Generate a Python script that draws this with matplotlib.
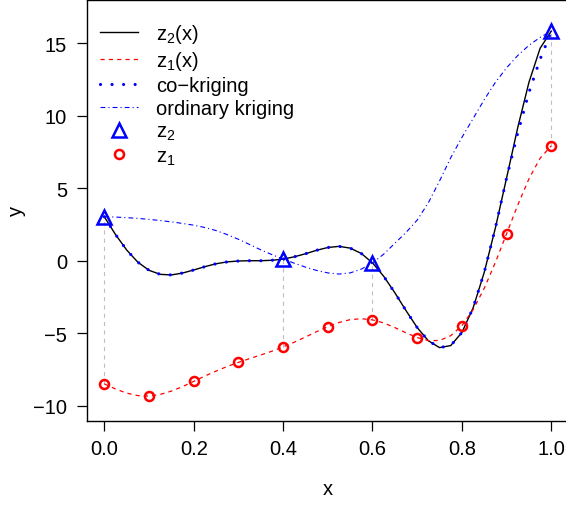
import matplotlib
matplotlib.use("Agg")
import matplotlib.pyplot as plt
import numpy as np

plt.rcParams['font.family'] = ['Liberation Sans', 'DejaVu Sans']
plt.rcParams['mathtext.fontset'] = 'custom'
plt.rcParams['mathtext.rm'] = 'Liberation Sans'
plt.rcParams['mathtext.it'] = 'Liberation Sans'
plt.rcParams['lines.scale_dashes'] = False

# fine grid of x values
x_grid = [0.0, 0.025, 0.05, 0.075, 0.1, 0.125, 0.15, 0.175, 0.2, 0.225,
          0.25, 0.275, 0.3, 0.325, 0.35, 0.375, 0.4, 0.425, 0.45, 0.475,
          0.5, 0.525, 0.55, 0.575, 0.6, 0.625, 0.65, 0.675, 0.7, 0.725,
          0.75, 0.775, 0.8, 0.825, 0.85, 0.875, 0.9, 0.925, 0.95, 0.975, 1.0]

# high fidelity curve z2(x)
z2_curve = [3.03, 1.81, 0.74, -0.10, -0.66, -0.94, -0.98, -0.85, -0.64, -0.41,
            -0.21, -0.08, -0.02, 0.00, 0.00, 0.03, 0.11, 0.27, 0.48, 0.72,
            0.91, 0.99, 0.87, 0.50, -0.15, -1.07, -2.21, -3.44, -4.61, -5.52,
            -5.99, -5.85, -4.95, -3.26, -0.80, 2.27, 5.71, 9.19, 12.30, 14.65, 15.83]

# low fidelity curve z1(x)
z1_curve = [-8.49, -8.84, -9.13, -9.30, -9.33, -9.22, -8.99, -8.68, -8.32, -7.95,
            -7.61, -7.29, -7.01, -6.75, -6.50, -6.24, -5.94, -5.62, -5.26, -4.89,
            -4.55, -4.26, -4.06, -4.00, -4.08, -4.29, -4.61, -4.97, -5.30, -5.51,
            -5.50, -5.17, -4.48, -3.38, -1.90, -0.11, 1.86, 3.84, 5.65, 7.07, 7.92]

# co-kriging prediction (follows z2, a little low near x = 1)
ck_x = x_grid[:-1] + [0.9875, 1.0]
ck_curve = z2_curve[:37] + [8.82, 11.6, 13.9, 14.85, 15.83]

# ordinary kriging prediction from the z2 points only
ok_curve = [3.03, 3.01, 2.97, 2.92, 2.85, 2.77, 2.68, 2.57, 2.45, 2.29,
            2.08, 1.80, 1.48, 1.12, 0.75, 0.42, 0.11, -0.17, -0.44, -0.67,
            -0.84, -0.92, -0.84, -0.58, -0.15, 0.45, 1.20, 1.95, 2.80, 4.00,
            5.50, 7.10, 8.50, 9.80, 11.10, 12.30, 13.30, 14.15, 14.85, 15.40, 15.83]

# observations
x2_obs = [0.0, 0.4, 0.6, 1.0]
z2_obs = [3.03, 0.11, -0.15, 15.83]
x1_obs = [0.0, 0.1, 0.2, 0.3, 0.4, 0.5, 0.6, 0.7, 0.8, 0.9, 1.0]
z1_obs = [-8.49, -9.33, -8.32, -7.01, -5.94, -4.55, -4.08, -5.30, -4.48, 1.86, 7.92]
z1_at_x2 = [-8.49, -5.94, -4.08, 7.92]

W, H = 566, 506
fig = plt.figure(figsize=(W / 100, H / 100), dpi=100)
ax = fig.add_axes([86.6 / W, 1 - 421.7 / H, 482.4 / W, 421.2 / H])

# grey links between the two fidelity levels
ax.vlines(x2_obs, z1_at_x2, z2_obs, colors='#bebebe', linestyles=(0, (3, 3)), lw=0.8)

ax.plot(x_grid, z2_curve, color='black', lw=1.0, label=r'$\mathregular{z_2(x)}$')
ax.plot(x_grid, z1_curve, color='red', lw=0.9, linestyle=(0, (3, 3)),
        label=r'$\mathregular{z_1(x)}$')
ax.plot(ck_x, ck_curve, color='blue', lw=2.3, linestyle=(0, (0.01, 8.3)),
        dash_capstyle='round', label='co\u2212kriging')
ax.plot(x_grid, ok_curve, color='blue', lw=0.8, linestyle=(0, (3.5, 2.2, 0.8, 2.2)),
        label='ordinary kriging')
ax.plot(x2_obs, z2_obs, linestyle='none', marker='^', ms=9.5, mfc='none',
        mec='blue', mew=1.8, label=r'$\mathregular{z_2}$')
ax.plot(x1_obs, z1_obs, linestyle='none', marker='o', ms=6.5, mfc='none',
        mec='red', mew=1.8, label=r'$\mathregular{z_1}$')

ax.set_xlim(-0.0396, 1.0396)
ax.set_ylim(-11.03, 18.01)
ax.set_xticks([0.0, 0.2, 0.4, 0.6, 0.8, 1.0])
ax.set_xticklabels(['0.0', '0.2', '0.4', '0.6', '0.8', '1.0'])
ax.set_yticks([-10, -5, 0, 5, 10, 15])
ax.set_yticklabels(['\u221210', '\u22125', '0', '5', '10', '15'])
ax.tick_params(labelsize=14.5, length=7, width=0.9)
ax.tick_params(axis='x', pad=6.5)
ax.tick_params(axis='y', pad=7)
for s in ax.spines.values():
    s.set_linewidth(1.0)
ax.set_xlabel('x', fontsize=14.5, va='center')
ax.set_ylabel('y', fontsize=14.5, va='center')
ax.xaxis.set_label_coords(0.5, -(490 - 421.7) / 421.2)
ax.yaxis.set_label_coords(-(86.6 - 16) / 482.4, 0.5)

ax.legend(loc='upper left', bbox_to_anchor=(100 / W, 1 - 23 / H),
          bbox_transform=fig.transFigure, frameon=False, fontsize=14.5,
          handlelength=1.9, handletextpad=0.9, labelspacing=0.2,
          borderpad=0, borderaxespad=0)

fig.savefig('out.png', dpi=100)
